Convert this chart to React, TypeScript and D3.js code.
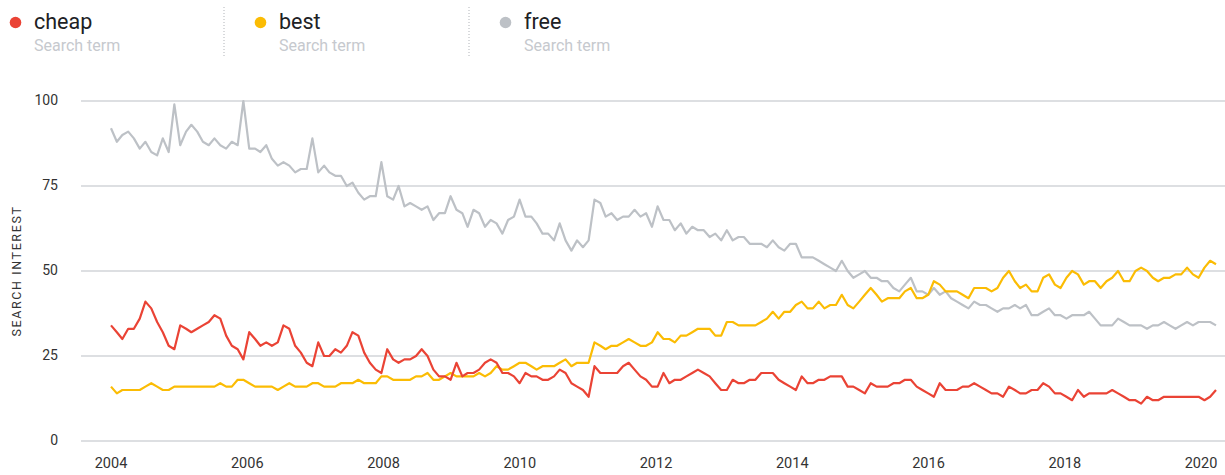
import React from 'react';
import * as d3 from 'd3';

const terms = ['cheap', 'best', 'free'];
const termColors = ['#ea4335', '#fbbc04', '#bdc1c6'];

// monthly values, Jan 2004 .. Jan 2020
const cheap = [
  34, 32, 30, 33, 33, 36, 41, 39, 35, 32, 28, 27, 34, 33, 32, 33, 34, 35, 37, 36, 31, 28, 27, 24, 32, 30, 28, 29, 28, 29, 34, 33,
  28, 26, 23, 22, 29, 25, 25, 27, 26, 28, 32, 31, 26, 23, 21, 20, 27, 24, 23, 24, 24, 25, 27, 25, 21, 19, 19, 18, 23, 19, 20, 20,
  21, 23, 24, 23, 20, 20, 19, 17, 20, 19, 19, 18, 18, 19, 21, 20, 17, 16, 15, 13, 22, 20, 20, 20, 20, 22, 23, 21, 19, 18, 16, 16,
  20, 17, 18, 18, 19, 20, 21, 20, 19, 17, 15, 15, 18, 17, 17, 18, 18, 20, 20, 20, 18, 17, 16, 15, 19, 17, 17, 18, 18, 19, 19, 19,
  16, 16, 15, 14, 17, 16, 16, 16, 17, 17, 18, 18, 16, 15, 14, 13, 17, 15, 15, 15, 16, 16, 17, 16, 15, 14, 14, 13, 16, 15, 14, 14,
  15, 15, 17, 16, 14, 14, 13, 12, 15, 13, 14, 14, 14, 14, 15, 14, 13, 12, 12, 11, 13, 12, 12, 13, 13, 13, 13, 13, 13, 13, 12, 13, 15,
];

const best = [
  16, 14, 15, 15, 15, 15, 16, 17, 16, 15, 15, 16, 16, 16, 16, 16, 16, 16, 16, 17, 16, 16, 18, 18, 17, 16, 16, 16, 16, 15, 16, 17,
  16, 16, 16, 17, 17, 16, 16, 16, 17, 17, 17, 18, 17, 17, 17, 19, 19, 18, 18, 18, 18, 19, 19, 20, 18, 18, 19, 20, 19, 19, 19, 19,
  20, 19, 20, 22, 21, 21, 22, 23, 23, 22, 21, 22, 22, 22, 23, 24, 22, 23, 23, 23, 29, 28, 27, 28, 28, 29, 30, 29, 28, 28, 29, 32,
  30, 30, 29, 31, 31, 32, 33, 33, 33, 31, 31, 35, 35, 34, 34, 34, 34, 35, 36, 38, 36, 38, 38, 40, 41, 39, 39, 41, 39, 40, 40, 43,
  40, 39, 41, 43, 45, 43, 41, 42, 42, 42, 44, 45, 42, 42, 43, 47, 46, 44, 44, 44, 43, 42, 45, 45, 45, 44, 45, 48, 50, 47, 45, 46,
  44, 44, 48, 49, 46, 45, 48, 50, 49, 46, 47, 47, 45, 47, 48, 50, 47, 47, 50, 51, 50, 48, 47, 48, 48, 49, 49, 51, 49, 48, 51, 53, 52,
];

const free = [
  92, 88, 90, 91, 89, 86, 88, 85, 84, 89, 85, 99, 87, 91, 93, 91, 88, 87, 89, 87, 86, 88, 87, 100, 86, 86, 85, 87, 83, 81, 82, 81,
  79, 80, 80, 89, 79, 81, 79, 78, 78, 75, 76, 73, 71, 72, 72, 82, 72, 71, 75, 69, 70, 69, 68, 69, 65, 67, 67, 72, 68, 67, 63, 68,
  67, 63, 65, 64, 61, 65, 66, 71, 66, 66, 64, 61, 61, 59, 64, 59, 56, 59, 57, 59, 71, 70, 66, 67, 65, 66, 66, 68, 66, 67, 63, 69,
  65, 65, 62, 64, 61, 63, 62, 62, 60, 61, 59, 62, 59, 60, 60, 58, 58, 58, 57, 59, 57, 56, 58, 58, 54, 54, 54, 53, 52, 51, 50, 53,
  50, 48, 49, 50, 48, 48, 47, 47, 45, 44, 46, 48, 44, 44, 43, 45, 43, 44, 42, 41, 40, 39, 41, 40, 40, 39, 38, 39, 39, 40, 39, 40,
  37, 37, 38, 39, 37, 37, 36, 37, 37, 37, 38, 36, 34, 34, 34, 36, 35, 34, 34, 34, 33, 34, 34, 35, 34, 33, 34, 35, 34, 35, 35, 35, 34,
];

const yTicks = [0, 25, 50, 75, 100];
const yearTicks = [2004, 2006, 2008, 2010, 2012, 2014, 2016, 2018, 2020];

const W = 1225;
const H = 475;
const font = 'Roboto, "Noto Sans", sans-serif';

export default function App() {
  const months = cheap.map((_, i) => new Date(2004, i, 1));

  const x = d3.scaleTime()
    .domain([months[0], months[months.length - 1]])
    .range([111, 1216]);
  // year labels sit on their own even spacing in the original
  const xLabel = d3.scaleLinear().domain([2004, 2020]).range([111, 1201]);
  const y = d3.scaleLinear().domain([0, 100]).range([441, 101]);

  const line = d3.line<number>()
    .x((_, i) => x(months[i]))
    .y(d => y(d));

  const series = [cheap, best, free];
  // draw order: free behind, then best, then cheap
  const order = [2, 1, 0];

  return (
    <>
      <style>{'body{margin:0}'}</style>
      <svg width={W} height={H} style={{ display: 'block', fontFamily: font }}>
        <rect width={W} height={H} fill="#fff" />

        {/* legend */}
        {terms.map((t, k) => {
          const ox = k * 245;
          return (
            <g key={t}>
              <circle cx={ox + 15.5} cy={22.5} r={5.8} fill={termColors[k]} />
              <text x={ox + 34} y={28.5} fontSize={21.5} fill="#202124">{t}</text>
              <text x={ox + 34} y={50.5} fontSize={16} fill="#c6c9ce">Search term</text>
              {k > 0 && (
                <line x1={ox - 21} x2={ox - 21} y1={7} y2={56}
                  stroke="#b0b3b8" strokeWidth={1} strokeDasharray="1,2" />
              )}
            </g>
          );
        })}

        {/* grid */}
        {yTicks.map(v => (
          <g key={v}>
            <line x1={81} x2={W} y1={y(v)} y2={y(v)} stroke="#d2d4d8" strokeWidth={1.5} />
            <text x={58} y={y(v)} dy="0.3em" textAnchor="end" fontSize={14} fill="#333">{v}</text>
          </g>
        ))}

        <text transform="translate(21,271) rotate(-90)" textAnchor="middle"
          fontSize={12.5} letterSpacing={1.6} fill="#333">SEARCH INTEREST</text>

        {yearTicks.map(yr => (
          <text key={yr} x={xLabel(yr)} y={468} textAnchor="middle" fontSize={14.5} fill="#333">{yr}</text>
        ))}

        {order.map(k => (
          <path key={terms[k]} d={line(series[k]) || ''} fill="none"
            stroke={termColors[k]} strokeWidth={2.2} strokeLinejoin="round" />
        ))}
      </svg>
    </>
  );
}
